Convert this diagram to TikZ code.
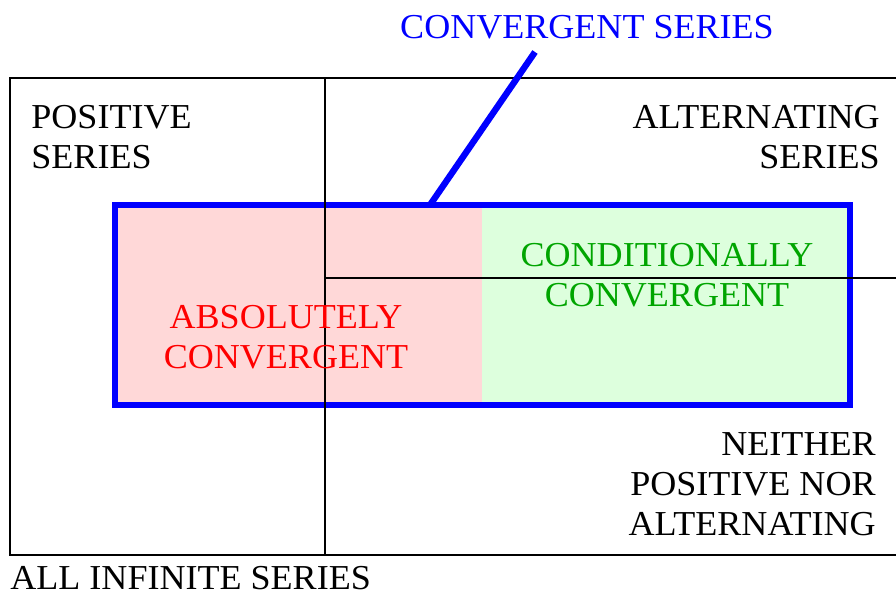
\documentclass[tikz,border=0pt]{standalone}
\usepackage{fontspec}
\setmainfont{Liberation Serif}[FakeStretch=1.03]
\usetikzlibrary{positioning}

\definecolor{abspink}{RGB}{255,216,216}
\definecolor{condgreen}{RGB}{221,255,221}
\definecolor{condtext}{RGB}{0,165,0}

\begin{document}
\begin{tikzpicture}[
    x=0.5pt, y=-0.5pt,
    every node/.style={font=\fontsize{17.5}{20}\selectfont, inner sep=0pt},
    frm/.style={line width=1pt, line cap=rect},
    blu/.style={draw=blue, line width=3.2pt},
    lbl/.style={align=left},
    rlbl/.style={align=right},
    clbl/.style={align=center}
]
\useasboundingbox (0,0) rectangle (896,595);
% regions
\fill[abspink]   (115,205) rectangle (482,405);
\fill[condgreen] (482,205) rectangle (850,405);
\draw[blu] (115,205) rectangle (850,405);
% frame and dividers
\draw[frm] (900,78) -- (10,78) -- (10,555) -- (900,555);
\draw[frm] (325,78) -- (325,555);
\draw[frm] (325,278) -- (900,278);
% labels
\node[text=blue, anchor=north] (conv) at (587,15) {CONVERGENT SERIES};
\coordinate (convtip) at (535,52);
\coordinate (convbox) at (430,205);
\draw[blue, line width=3.2pt] (convbox) -- (convtip);
\node[lbl, anchor=north west] (pos) at (31,105) {POSITIVE\\SERIES};
\node[rlbl, anchor=north east] (alt) at (880,105) {ALTERNATING\\SERIES};
\node[clbl, text=condtext, anchor=north] (cond) at (667,243) {CONDITIONALLY\\CONVERGENT};
\node[clbl, text=red, anchor=north] (abs) at (286,305) {ABSOLUTELY\\CONVERGENT};
\node[rlbl, anchor=north east] (nei) at (876,432) {NEITHER\\POSITIVE NOR\\ALTERNATING};
\node[lbl, anchor=north west] (all) at (10,566) {ALL INFINITE SERIES};
\end{tikzpicture}
\end{document}
